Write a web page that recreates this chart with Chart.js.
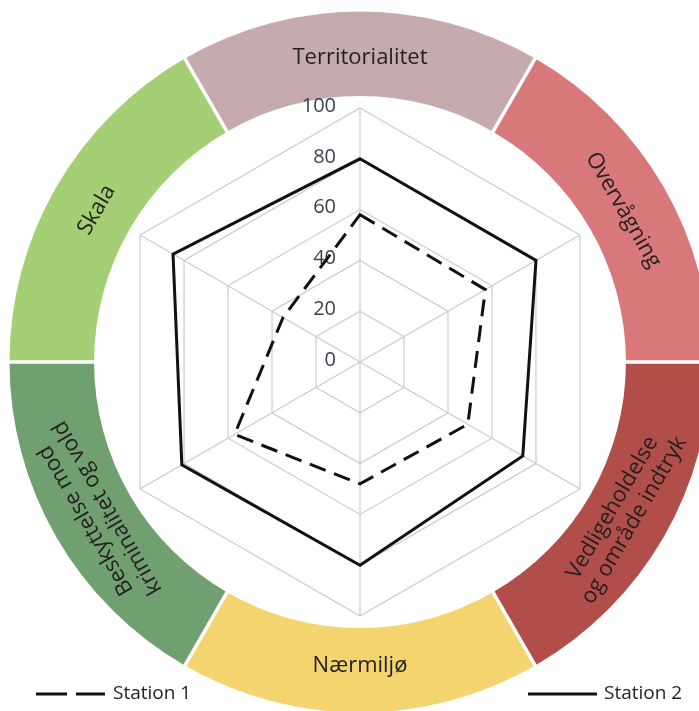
<!DOCTYPE html>
<html><head><meta charset="utf-8">
<script src="https://cdn.jsdelivr.net/npm/chart.js@4.4.1/dist/chart.umd.min.js"></script>
<style>
html,body{margin:0;padding:0;background:#fff;}
#wrap{position:relative;width:699px;height:711px;}
</style></head><body>
<div id="wrap"><canvas id="c" width="699" height="711"></canvas></div>
<script>
// ---- data ----
const categories = ["Territorialitet", "Overvågning", ["Vedligeholdelse", "og område indtryk"], "Nærmiljø", ["Beskyttelse mod", "kriminalitet og vold"], "Skala"];
const station1 = [58, 57, 49, 48, 57, 35];
const station2 = [80, 80, 74, 80, 81, 85];
const tickValues = [0, 20, 40, 60, 80, 100];
const seriesNames = ["Station 1", "Station 2"];

// ---- styles ----
const ringColors = ["#c5abae", "#d9787b", "#b24e4a", "#f3d46e", "#70a06f", "#a5cf74"];
const ringFlip = [false, false, true, true, false, false];
const FONT = "'Open Sans', 'Noto Sans', sans-serif";

const ringPlugin = {
  id: 'ring',
  beforeDraw(chart) {
    const s = chart.scales.r, ctx = chart.ctx;
    const cx = s.xCenter, cy = s.yCenter, R = s.drawingArea;
    const rIn = R * 1.047, rOut = R * 1.38;
    const n = categories.length, half = Math.PI / n;
    ctx.save();
    for (let i = 0; i < n; i++) {
      const a = s.getIndexAngle(i) - Math.PI / 2;
      ctx.beginPath();
      ctx.arc(cx, cy, rOut, a - half, a + half);
      ctx.arc(cx, cy, rIn, a + half, a - half, true);
      ctx.closePath();
      ctx.fillStyle = ringColors[i];
      ctx.fill();
    }
    ctx.strokeStyle = '#ffffff';
    ctx.lineWidth = 3.5;
    for (let i = 0; i < n; i++) {
      const a = s.getIndexAngle(i) - Math.PI / 2 + half;
      ctx.beginPath();
      ctx.moveTo(cx + Math.cos(a) * (rIn - 3), cy + Math.sin(a) * (rIn - 3));
      ctx.lineTo(cx + Math.cos(a) * (rOut + 6), cy + Math.sin(a) * (rOut + 6));
      ctx.stroke();
    }
    // ring labels
    ctx.fillStyle = '#231f20';
    ctx.font = "22px " + FONT;
    ctx.textAlign = 'center';
    ctx.textBaseline = 'middle';
    const lh = 25;
    for (let i = 0; i < n; i++) {
      const p = s.getPointPosition(i, R * 1.197);
      const rot = s.getIndexAngle(i) + (ringFlip[i] ? Math.PI : 0);
      const lines = Array.isArray(categories[i]) ? categories[i] : [categories[i]];
      ctx.save();
      ctx.translate(p.x, p.y);
      ctx.rotate(rot);
      lines.forEach((t, k) => {
        ctx.fillText(t, 0, (k - (lines.length - 1) / 2) * lh);
      });
      ctx.restore();
    }
    ctx.restore();
  },
  beforeDatasetsDraw(chart) {
    const s = chart.scales.r, ctx = chart.ctx;
    ctx.save();
    ctx.fillStyle = '#3a4150';
    ctx.font = "20px " + FONT;
    ctx.textAlign = 'right';
    ctx.textBaseline = 'middle';
    tickValues.forEach(v => {
      const d = s.getDistanceFromCenterForValue(v);
      ctx.fillText(String(v), s.xCenter - 24, s.yCenter - d - 2);
    });
    ctx.restore();
  },
  afterDraw(chart) {
    const ctx = chart.ctx;
    ctx.save();
    ctx.strokeStyle = '#111';
    ctx.lineWidth = 3;
    const y = 694;
    // Station 1 (dashed)
    ctx.beginPath();
    ctx.moveTo(36, y); ctx.lineTo(67, y);
    ctx.moveTo(76, y); ctx.lineTo(105, y);
    ctx.stroke();
    // Station 2 (solid)
    ctx.beginPath();
    ctx.moveTo(528, y); ctx.lineTo(597, y);
    ctx.stroke();
    ctx.fillStyle = '#231f20';
    ctx.font = "19px " + FONT;
    ctx.textAlign = 'left';
    ctx.textBaseline = 'middle';
    ctx.fillText(seriesNames[0], 113, y);
    ctx.fillText(seriesNames[1], 604, y);
    ctx.restore();
  }
};

new Chart(document.getElementById('c'), {
  type: 'radar',
  data: {
    labels: categories,
    datasets: [
      { label: seriesNames[0], data: station1, borderColor: '#111', borderWidth: 3, borderDash: [17, 9],
        borderJoinStyle: 'miter', fill: false, backgroundColor: 'rgba(0,0,0,0)', pointRadius: 0, tension: 0 },
      { label: seriesNames[1], data: station2, borderColor: '#111', borderWidth: 3,
        borderJoinStyle: 'miter', fill: false, backgroundColor: 'rgba(0,0,0,0)', pointRadius: 0, tension: 0 }
    ]
  },
  options: {
    responsive: false,
    animation: false,
    layout: { padding: { left: 106, right: 85, top: 108, bottom: 95 } },
    plugins: { legend: { display: false }, tooltip: { enabled: false }, title: { display: false } },
    scales: {
      r: {
        min: 0, max: 100,
        startAngle: 0,
        ticks: { display: false, stepSize: 20 },
        pointLabels: { display: false },
        grid: { color: '#cbcbcb', lineWidth: 1.2 },
        angleLines: { color: '#cbcbcb', lineWidth: 1.2 }
      }
    }
  },
  plugins: [ringPlugin]
});
</script>
</body></html>
